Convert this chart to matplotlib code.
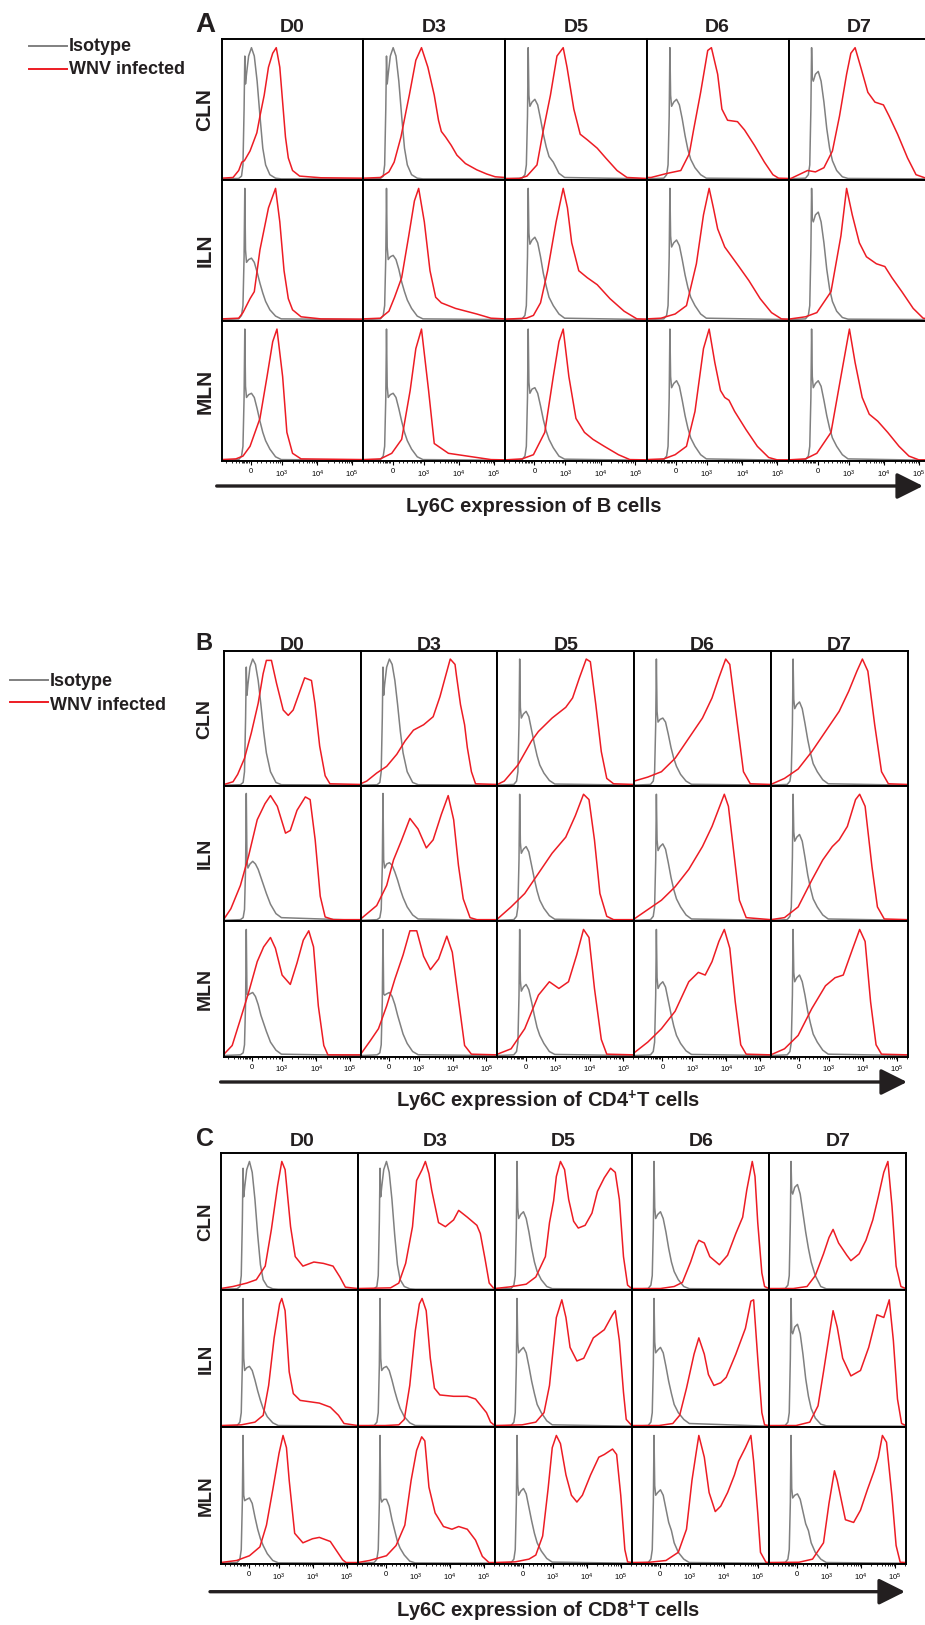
import matplotlib
matplotlib.use('Agg')
import matplotlib.pyplot as plt

plt.rcParams['font.family'] = ['Liberation Sans', 'DejaVu Sans']
plt.rcParams['mathtext.default'] = 'regular'

W, H = 925, 1625
RED = '#ED1C24'
GREY = '#808080'
INK = '#231F20'

days = ['D0', 'D3', 'D5', 'D6', 'D7']
nodes = ['CLN', 'ILN', 'MLN']
tick_pos = [0.207, 0.425, 0.675, 0.92]
tick_lab = ['0', '$10^{3}$', '$10^{4}$', '$10^{5}$']
minor_pos = [0.03, 0.07, 0.10, 0.12, 0.14, 0.15, 0.16, 0.17, 0.18, 0.19,
             0.25, 0.28, 0.31, 0.34, 0.36, 0.38, 0.40, 0.41,
             0.50, 0.544, 0.575, 0.60, 0.619, 0.636, 0.65, 0.664,
             0.75, 0.794, 0.825, 0.85, 0.869, 0.886, 0.90, 0.914, 0.995]

# isotype histograms, sampled on a common channel grid (fraction of panel width)
iso_x = [0, 0.12, 0.14, 0.15, 0.158, 0.163, 0.168, 0.175, 0.19, 0.21, 0.23, 0.25, 0.27, 0.29, 0.31, 0.34, 0.38, 0.42, 1.0]

A_iso_CLN = [
    [0, .003, .02, .1, .5, .88, .68, .75, .88, .94, .88, .7, .45, .22, .1, .03, .005, 0, 0],
    [0, .003, .02, .1, .5, .88, .68, .75, .88, .94, .88, .7, .45, .22, .1, .03, .005, 0, 0],
    [0, .005, .03, .1, .45, .94, .6, .52, .55, .57, .53, .43, .32, .23, .16, .12, .04, .01, 0],
    [0, .005, .03, .1, .45, .94, .6, .52, .55, .57, .53, .43, .31, .21, .14, .08, .03, .005, 0],
    [0, .005, .03, .1, .5, .94, .72, .7, .75, .77, .7, .55, .36, .22, .13, .06, .015, .003, 0],
]
A_iso_ILN = [
    [0, .005, .03, .1, .45, .94, .5, .41, .43, .44, .41, .34, .26, .19, .13, .07, .025, .005, 0],
    [0, .005, .03, .1, .45, .94, .52, .43, .45, .46, .43, .36, .27, .2, .14, .08, .025, .005, 0],
    [0, .005, .03, .1, .45, .94, .62, .54, .57, .59, .55, .45, .33, .24, .16, .1, .04, .01, 0],
    [0, .005, .03, .1, .45, .94, .6, .52, .55, .57, .53, .43, .32, .23, .16, .1, .04, .01, 0],
    [0, .005, .03, .1, .5, .94, .72, .7, .75, .77, .7, .55, .36, .22, .13, .06, .015, .003, 0],
]
A_iso_MLN = [
    [0, .005, .03, .1, .45, .94, .53, .45, .47, .48, .45, .37, .28, .2, .14, .08, .025, .005, 0],
    [0, .005, .03, .1, .45, .94, .53, .45, .47, .48, .45, .37, .28, .2, .14, .08, .025, .005, 0],
    [0, .005, .03, .1, .45, .94, .56, .48, .51, .52, .48, .39, .29, .21, .15, .09, .03, .008, 0],
    [0, .005, .03, .1, .45, .94, .6, .52, .55, .57, .53, .43, .32, .23, .16, .1, .04, .01, 0],
    [0, .005, .03, .1, .45, .94, .6, .52, .55, .57, .53, .43, .32, .23, .16, .1, .04, .01, 0],
]

B_iso_CLN = [
    [0, .003, .02, .1, .5, .88, .67, .75, .88, .94, .9, .78, .6, .4, .24, .1, .02, .003, 0],
    [0, .003, .02, .1, .5, .88, .67, .75, .88, .94, .9, .78, .6, .4, .24, .1, .02, .003, 0],
    [0, .005, .03, .1, .45, .94, .58, .5, .53, .55, .51, .41, .31, .22, .15, .09, .035, .008, 0],
    [0, .005, .03, .1, .45, .94, .55, .47, .49, .5, .47, .38, .28, .2, .14, .08, .03, .006, 0],
    [0, .005, .03, .1, .45, .94, .64, .57, .6, .62, .57, .46, .34, .24, .16, .1, .04, .01, 0],
]
B_iso_ILN = [
    [0, .005, .02, .08, .4, .946, .45, .39, .42, .44, .42, .38, .32, .26, .2, .12, .05, .02, 0],
    [0, .005, .02, .08, .4, .946, .45, .39, .42, .43, .41, .36, .3, .23, .17, .1, .04, .01, 0],
    [0, .005, .03, .1, .45, .94, .58, .5, .53, .55, .51, .41, .31, .22, .15, .09, .035, .008, 0],
    [0, .005, .03, .1, .45, .94, .6, .52, .55, .57, .53, .43, .32, .23, .16, .1, .04, .01, 0],
    [0, .005, .03, .1, .47, .94, .66, .59, .62, .64, .59, .47, .34, .24, .16, .1, .04, .01, 0],
]
B_iso_MLN = [
    [0, .005, .02, .08, .4, .94, .46, .45, .46, .47, .44, .38, .3, .24, .18, .1, .04, .01, 0],
    [0, .005, .02, .08, .4, .94, .46, .45, .46, .47, .44, .38, .3, .23, .16, .09, .03, .006, 0],
    [0, .005, .03, .1, .45, .94, .56, .48, .51, .53, .49, .4, .3, .21, .15, .09, .03, .008, 0],
    [0, .005, .03, .1, .45, .94, .58, .5, .53, .55, .51, .41, .31, .22, .15, .09, .035, .008, 0],
    [0, .005, .03, .1, .45, .94, .62, .55, .58, .6, .55, .45, .33, .24, .16, .1, .04, .01, 0],
]

C_iso_CLN = [
    [0, .003, .02, .1, .5, .89, .68, .75, .88, .94, .86, .66, .4, .18, .07, .02, .003, 0, 0],
    [0, .003, .02, .1, .5, .89, .68, .75, .88, .94, .86, .66, .4, .18, .07, .02, .003, 0, 0],
    [0, .005, .03, .1, .45, .94, .6, .52, .55, .57, .52, .42, .3, .2, .13, .07, .02, .004, 0],
    [0, .005, .03, .1, .45, .94, .6, .52, .55, .57, .52, .42, .3, .2, .13, .07, .02, .004, 0],
    [0, .005, .03, .1, .5, .94, .72, .7, .75, .77, .7, .56, .42, .3, .2, .1, .02, .003, 0],
]
C_iso_ILN = [
    [0, .005, .03, .1, .45, .94, .5, .41, .43, .44, .41, .34, .26, .19, .13, .07, .025, .005, 0],
    [0, .005, .03, .1, .45, .94, .5, .41, .43, .44, .41, .34, .26, .19, .13, .07, .025, .005, 0],
    [0, .005, .03, .1, .45, .94, .62, .54, .56, .58, .54, .44, .33, .24, .16, .1, .04, .01, 0],
    [0, .005, .03, .1, .45, .94, .62, .54, .56, .58, .54, .44, .33, .24, .16, .1, .05, .02, 0],
    [0, .005, .03, .1, .5, .94, .7, .68, .73, .75, .68, .53, .35, .22, .13, .06, .015, .003, 0],
]
C_iso_MLN = [
    [0, .005, .03, .1, .45, .94, .5, .46, .47, .48, .44, .34, .25, .18, .13, .07, .02, .003, 0],
    [0, .005, .03, .1, .45, .94, .48, .45, .47, .47, .42, .32, .24, .16, .11, .06, .015, .002, 0],
    [0, .005, .03, .1, .45, .94, .58, .5, .53, .55, .51, .41, .31, .22, .15, .09, .035, .008, 0],
    [0, .005, .03, .1, .45, .94, .57, .5, .52, .54, .5, .4, .3, .24, .15, .08, .03, .005, 0],
    [0, .005, .03, .1, .45, .94, .55, .48, .5, .51, .47, .38, .29, .24, .15, .08, .03, .005, 0],
]

# WNV infected histograms: (channel fraction, relative count)
A_wnv_CLN = [
    [(0, .005), (.08, .01), (.12, .06), (.142, .12), (.16, .13), (.2, .2), (.248, .33), (.27, .45), (.3, .6),
     (.33, .8), (.36, .9), (.385, .94), (.41, .8), (.43, .55), (.45, .3), (.47, .15), (.5, .06), (.55, .02),
     (.7, .008), (1, .005)],
    [(0, .005), (.12, .01), (.18, .05), (.217, .12), (.265, .3), (.3, .48), (.324, .6), (.37, .85), (.41, .94),
     (.455, .8), (.5, .6), (.53, .42), (.55, .34), (.58, .3), (.62, .24), (.66, .17), (.72, .11), (.8, .065),
     (.87, .035), (.93, .015), (1, .01)],
    [(0, .003), (.1, .003), (.154, .02), (.225, .1), (.27, .35), (.32, .6), (.366, .88), (.41, .94), (.437, .8),
     (.485, .5), (.53, .32), (.58, .28), (.65, .22), (.71, .15), (.79, .06), (.86, .01), (1, .003)],
    [(0, .01), (.03, .01), (.146, .04), (.24, .06), (.3, .18), (.33, .35), (.38, .62), (.43, .92), (.456, .94),
     (.5, .75), (.53, .5), (.57, .42), (.64, .41), (.69, .35), (.76, .24), (.83, .12), (.89, .03), (.93, .005),
     (1, .003)],
    [(0, .003), (.017, .003), (.135, .06), (.19, .05), (.25, .08), (.31, .2), (.36, .45), (.41, .75), (.44, .9),
     (.47, .94), (.51, .8), (.56, .62), (.61, .55), (.67, .53), (.71, .45), (.77, .32), (.84, .15), (.9, .03),
     (.975, .003), (1, .003)],
]
A_wnv_ILN = [
    [(0, .005), (.12, .01), (.15, .05), (.2, .15), (.23, .2), (.27, .5), (.33, .8), (.38, .94), (.41, .7),
     (.44, .35), (.47, .15), (.5, .07), (.56, .02), (.7, .005), (1, .003)],
    [(0, .005), (.12, .01), (.18, .06), (.22, .16), (.27, .3), (.32, .6), (.36, .85), (.39, .94), (.43, .7),
     (.47, .35), (.51, .16), (.55, .12), (.65, .08), (.8, .04), (.9, .01), (1, .005)],
    [(0, .003), (.15, .01), (.2, .03), (.25, .12), (.3, .35), (.36, .7), (.41, .94), (.44, .8), (.47, .55),
     (.52, .35), (.58, .3), (.65, .25), (.74, .15), (.84, .06), (.93, .005), (1, .003)],
    [(0, .005), (.1, .01), (.2, .04), (.28, .1), (.35, .4), (.4, .75), (.44, .94), (.47, .8), (.5, .65),
     (.55, .52), (.6, .45), (.65, .38), (.72, .28), (.8, .15), (.88, .05), (.95, .005), (1, .003)],
    [(0, .003), (.12, .02), (.2, .05), (.3, .2), (.37, .6), (.41, .94), (.45, .75), (.5, .55), (.55, .45),
     (.62, .4), (.68, .38), (.73, .3), (.8, .2), (.88, .08), (.95, .01), (1, .003)],
]
A_wnv_MLN = [
    [(0, .005), (.1, .01), (.15, .03), (.2, .1), (.27, .3), (.32, .6), (.36, .85), (.39, .94), (.43, .6),
     (.46, .2), (.5, .05), (.56, .01), (1, .005)],
    [(0, .005), (.12, .01), (.2, .05), (.27, .15), (.33, .5), (.37, .8), (.41, .94), (.46, .5), (.5, .12),
     (.6, .05), (.8, .02), (.9, .005), (1, .003)],
    [(0, .003), (.12, .01), (.2, .04), (.28, .2), (.34, .6), (.38, .85), (.41, .94), (.45, .6), (.5, .3),
     (.56, .2), (.62, .15), (.7, .1), (.8, .04), (.88, .005), (1, .003)],
    [(0, .005), (.12, .01), (.2, .04), (.28, .1), (.34, .35), (.4, .8), (.44, .94), (.48, .7), (.52, .5),
     (.55, .45), (.58, .43), (.62, .35), (.7, .22), (.78, .1), (.86, .02), (.92, .003), (1, .003)],
    [(0, .003), (.12, .01), (.2, .05), (.3, .2), (.37, .6), (.43, .94), (.47, .7), (.52, .45), (.57, .33),
     (.63, .28), (.7, .2), (.78, .1), (.85, .03), (.92, .003), (1, .003)],
]

B_wnv_CLN = [
    [(0, .005), (.066, .025), (.1, .08), (.15, .2), (.2, .39), (.25, .61), (.286, .83), (.31, .93), (.347, .93),
     (.384, .76), (.433, .56), (.47, .52), (.506, .56), (.555, .7), (.59, .8), (.64, .78), (.665, .61),
     (.7, .29), (.74, .07), (.775, .01), (1, .005)],
    [(0, .01), (.044, .03), (.117, .09), (.19, .14), (.264, .23), (.325, .33), (.386, .41), (.46, .45),
     (.53, .51), (.58, .66), (.62, .81), (.655, .94), (.69, .9), (.7, .82), (.73, .6), (.76, .45), (.78, .28),
     (.81, .1), (.84, .01), (1, .005)],
    [(0, .005), (.05, .03), (.15, .15), (.25, .33), (.3, .4), (.4, .5), (.5, .58), (.55, .65), (.6, .8),
     (.65, .94), (.68, .92), (.72, .6), (.76, .25), (.8, .05), (.85, .01), (1, .005)],
    [(0, .03), (.1, .06), (.2, .1), (.3, .2), (.4, .35), (.5, .5), (.57, .65), (.62, .8), (.67, .94), (.7, .9),
     (.75, .5), (.8, .1), (.85, .01), (1, .005)],
    [(0, .005), (.1, .05), (.2, .12), (.3, .25), (.4, .4), (.5, .55), (.57, .7), (.63, .85), (.67, .94),
     (.71, .85), (.76, .45), (.81, .1), (.86, .01), (1, .005)],
]
B_wnv_ILN = [
    [(0, .01), (.05, .086), (.12, .26), (.18, .48), (.243, .75), (.3, .87), (.34, .93), (.39, .85), (.45, .65),
     (.485, .67), (.534, .82), (.595, .92), (.63, .9), (.667, .6), (.704, .18), (.74, .025), (.8, .005),
     (1, .005)],
    [(0, .01), (.117, .11), (.19, .26), (.24, .45), (.3, .6), (.36, .76), (.42, .68), (.48, .54), (.53, .6),
     (.59, .79), (.64, .93), (.68, .75), (.715, .41), (.75, .16), (.8, .02), (.85, .005), (1, .005)],
    [(0, .01), (.1, .1), (.2, .2), (.3, .35), (.4, .5), (.5, .62), (.57, .78), (.63, .94), (.67, .9), (.71, .6),
     (.75, .2), (.8, .03), (.85, .005), (1, .005)],
    [(0, .01), (.1, .08), (.2, .15), (.3, .25), (.4, .38), (.5, .55), (.57, .7), (.66, .94), (.69, .85),
     (.73, .5), (.77, .15), (.82, .02), (1, .005)],
    [(0, .005), (.1, .02), (.2, .1), (.3, .3), (.38, .45), (.45, .55), (.5, .6), (.56, .7), (.62, .9),
     (.65, .94), (.69, .85), (.74, .4), (.78, .1), (.83, .01), (1, .005)],
]
B_wnv_MLN = [
    [(0, .01), (.06, .075), (.12, .27), (.18, .47), (.243, .7), (.29, .81), (.34, .88), (.376, .8), (.425, .6),
     (.485, .53), (.534, .69), (.58, .86), (.62, .93), (.655, .81), (.69, .37), (.73, .075), (.76, .005),
     (1, .005)],
    [(0, .01), (.07, .11), (.13, .2), (.19, .37), (.25, .57), (.31, .75), (.36, .93), (.41, .93), (.46, .74),
     (.51, .64), (.57, .72), (.63, .89), (.67, .77), (.715, .42), (.76, .075), (.81, .01), (1, .005)],
    [(0, .01), (.1, .05), (.2, .2), (.3, .45), (.38, .55), (.45, .5), (.52, .55), (.58, .75), (.63, .94),
     (.67, .88), (.71, .5), (.76, .12), (.8, .01), (1, .005)],
    [(0, .02), (.1, .1), (.2, .2), (.3, .33), (.4, .55), (.47, .62), (.52, .6), (.57, .7), (.62, .85),
     (.66, .94), (.7, .8), (.74, .4), (.78, .08), (.82, .01), (1, .005)],
    [(0, .005), (.1, .05), (.2, .15), (.3, .35), (.4, .52), (.47, .58), (.53, .6), (.6, .8), (.65, .94),
     (.69, .85), (.73, .4), (.77, .08), (.81, .01), (1, .005)],
]

C_wnv_CLN = [
    [(0, .005), (.09, .02), (.19, .045), (.26, .07), (.325, .17), (.37, .44), (.415, .76), (.446, .94),
     (.47, .88), (.51, .46), (.544, .24), (.6, .17), (.68, .2), (.75, .19), (.82, .17), (.87, .09), (.91, .015),
     (1, .005)],
    [(0, .005), (.24, .01), (.3, .045), (.35, .19), (.4, .46), (.43, .8), (.47, .88), (.494, .94), (.52, .85),
     (.54, .73), (.59, .49), (.64, .46), (.7, .51), (.737, .58), (.8, .53), (.87, .47), (.895, .41), (.93, .22),
     (.96, .045), (.99, .01), (1, .005)],
    [(0, .005), (.11, .017), (.23, .037), (.3, .09), (.37, .24), (.4, .49), (.43, .65), (.45, .83), (.48, .94),
     (.51, .88), (.54, .66), (.576, .5), (.61, .45), (.66, .47), (.71, .56), (.75, .72), (.8, .82), (.846, .89),
     (.88, .86), (.91, .66), (.94, .24), (.97, .03), (1, .005)],
    [(0, .005), (.21, .005), (.31, .02), (.37, .05), (.43, .2), (.47, .32), (.49, .36), (.53, .34), (.57, .24),
     (.64, .18), (.7, .25), (.76, .41), (.81, .53), (.84, .73), (.88, .94), (.9, .83), (.92, .49), (.95, .12),
     (.97, .02), (1, .005)],
    [(0, .005), (.18, .005), (.28, .02), (.34, .1), (.4, .26), (.44, .38), (.47, .44), (.51, .34), (.57, .25),
     (.6, .21), (.66, .26), (.71, .36), (.76, .51), (.8, .68), (.84, .86), (.87, .94), (.9, .61), (.93, .17),
     (.965, .02), (1, .005)],
]
C_wnv_ILN = [
    [(0, .005), (.15, .01), (.25, .03), (.31, .08), (.35, .3), (.39, .65), (.43, .9), (.446, .94), (.47, .85),
     (.5, .4), (.53, .24), (.58, .19), (.65, .18), (.72, .17), (.8, .14), (.86, .08), (.9, .02), (1, .005)],
    [(0, .005), (.2, .005), (.3, .01), (.34, .05), (.38, .3), (.42, .7), (.45, .9), (.47, .94), (.5, .85),
     (.53, .5), (.56, .28), (.6, .23), (.7, .22), (.8, .22), (.86, .2), (.9, .15), (.94, .1), (.97, .03),
     (1, .005)],
    [(0, .005), (.2, .01), (.3, .03), (.36, .1), (.4, .3), (.43, .6), (.45, .8), (.49, .93), (.52, .8),
     (.55, .58), (.6, .48), (.65, .5), (.72, .65), (.8, .71), (.86, .82), (.88, .85), (.91, .63), (.94, .25),
     (.96, .05), (1, .005)],
    [(0, .005), (.2, .005), (.3, .02), (.35, .08), (.4, .28), (.455, .53), (.49, .65), (.53, .53), (.56, .38),
     (.6, .3), (.65, .32), (.69, .36), (.76, .53), (.83, .72), (.87, .92), (.89, .93), (.92, .5), (.95, .1),
     (.97, .01), (1, .005)],
    [(0, .005), (.2, .005), (.3, .03), (.36, .15), (.4, .4), (.42, .53), (.47, .85), (.5, .73), (.54, .5),
     (.6, .37), (.67, .41), (.73, .58), (.79, .82), (.84, .8), (.88, .93), (.91, .63), (.94, .2), (.97, .02),
     (1, .005)],
]
C_wnv_MLN = [
    [(0, .005), (.116, .02), (.21, .055), (.286, .12), (.334, .28), (.38, .54), (.426, .81), (.455, .94),
     (.48, .85), (.5, .61), (.54, .22), (.6, .15), (.67, .18), (.72, .19), (.8, .16), (.84, .1), (.89, .025),
     (.915, .005), (1, .005)],
    [(0, .005), (.086, .02), (.21, .055), (.28, .13), (.344, .28), (.39, .61), (.43, .83), (.467, .93),
     (.49, .9), (.52, .56), (.565, .37), (.626, .27), (.688, .25), (.737, .27), (.8, .25), (.86, .17),
     (.91, .05), (.958, .005), (1, .005)],
    [(0, .005), (.15, .01), (.25, .03), (.3, .06), (.35, .2), (.39, .55), (.42, .85), (.45, .94), (.48, .88),
     (.52, .65), (.56, .5), (.6, .45), (.64, .5), (.7, .65), (.76, .78), (.8, .8), (.86, .84), (.89, .8),
     (.92, .5), (.95, .1), (.97, .01), (1, .005)],
    [(0, .005), (.13, .007), (.25, .02), (.34, .08), (.4, .25), (.44, .61), (.47, .81), (.49, .94), (.53, .78),
     (.565, .52), (.61, .38), (.65, .42), (.7, .52), (.75, .65), (.78, .75), (.83, .85), (.87, .94), (.89, .75),
     (.92, .37), (.94, .08), (.98, .007), (1, .005)],
    [(0, .005), (.22, .007), (.32, .03), (.4, .15), (.44, .44), (.48, .68), (.5, .61), (.56, .32), (.62, .3),
     (.67, .39), (.72, .54), (.77, .68), (.8, .78), (.83, .94), (.86, .89), (.9, .49), (.93, .13), (.96, .007),
     (1, .005)],
]

fig = plt.figure(figsize=(W / 100, H / 100), dpi=100)


def draw_block(x0, y0, cw, rh, iso_rows, wnv_rows):
    for r in range(3):
        for c in range(5):
            ax = fig.add_axes([(x0 + c * cw) / W, 1 - (y0 + (r + 1) * rh) / H, cw / W, rh / H])
            ax.plot(iso_x, iso_rows[r][c], color=GREY, lw=1.1)
            xs, ys = zip(*wnv_rows[r][c])
            ax.plot(xs, ys, color=RED, lw=1.1)
            ax.set_xlim(0, 1)
            ax.set_ylim(-0.008, 1)
            ax.set_yticks([])
            for s in ax.spines.values():
                s.set_linewidth(1.4)
                s.set_color('black')
            if r == 2:
                ax.set_xticks(tick_pos, tick_lab)
                ax.set_xticks(minor_pos, minor=True)
                ax.tick_params(axis='x', which='major', length=3, width=0.8, labelsize=5.5, pad=2)
                ax.tick_params(axis='x', which='minor', length=1.6, width=0.6)
            else:
                ax.set_xticks([])


# panel geometry in pixels: left, top, column width, row height
draw_block(221.7, 39.3, 141.7, 140.7, [A_iso_CLN, A_iso_ILN, A_iso_MLN], [A_wnv_CLN, A_wnv_ILN, A_wnv_MLN])
draw_block(224.0, 651.0, 136.7, 135.2, [B_iso_CLN, B_iso_ILN, B_iso_MLN], [B_wnv_CLN, B_wnv_ILN, B_wnv_MLN])
draw_block(220.7, 1153.3, 137.0, 137.0, [C_iso_CLN, C_iso_ILN, C_iso_MLN], [C_wnv_CLN, C_wnv_ILN, C_wnv_MLN])

ov = fig.add_axes([0, 0, 1, 1])
ov.set_xlim(0, W)
ov.set_ylim(H, 0)
ov.axis('off')
ov.patch.set_alpha(0)

bold = dict(fontweight='bold', color=INK)

# panel letters
ov.text(195, 32, 'A', fontsize=20, va='baseline', **bold)
ov.text(195, 650, 'B', fontsize=17, va='baseline', **bold)
ov.text(196, 1146, 'C', fontsize=18, va='baseline', **bold)

# column titles
for i, d in enumerate(days):
    ov.text(221.7 + 141.7 * (i + 0.5), 32, d, fontsize=14, ha='center', va='baseline', **bold)
    ov.text(224.0 + 136.7 * (i + 0.5), 650, d, fontsize=14, ha='center', va='baseline', **bold)
for xc, d in zip([302, 435, 563, 701, 838], days):
    ov.text(xc, 1146, d, fontsize=14, ha='center', va='baseline', **bold)

# row labels
for i, n in enumerate(nodes):
    ov.text(205, 39.3 + 140.7 * (i + 0.5), n, fontsize=15, rotation=90, ha='center', va='center', **bold)
    ov.text(205, 651.0 + 135.2 * (i + 0.5), n, fontsize=14, rotation=90, ha='center', va='center', **bold)
    ov.text(206, 1153.3 + 137.0 * (i + 0.5), n, fontsize=13.5, rotation=90, ha='center', va='center', **bold)

# legends
for (lx0, lx1, y1, y2, tb1, tb2) in [(29, 67, 45.7, 69.3, 51, 74), (10, 48, 680, 701.7, 685.7, 710)]:
    ov.plot([lx0, lx1], [y1, y1], color=GREY, lw=1.4)
    ov.plot([lx0, lx1], [y2, y2], color=RED, lw=1.4)
    ov.text(lx1 + 2, tb1, 'Isotype', fontsize=13, va='baseline', **bold)
    ov.text(lx1 + 2, tb2, 'WNV infected', fontsize=13, va='baseline', **bold)

# expression arrows and axis labels
arrow = dict(arrowstyle='-|>,head_length=0.8,head_width=0.4', lw=2.4, color=INK, mutation_scale=20,
             shrinkA=0, shrinkB=0)
for (xa, xb, ya, xl, yl, lab) in [
    (216.7, 923, 486, 534, 512, 'Ly6C expression of B cells'),
    (220.6, 907, 1082, 548, 1107.3, 'Ly6C expression of CD4$^{+}$T cells'),
    (210, 905, 1591.7, 548, 1617.3, 'Ly6C expression of CD8$^{+}$T cells'),
]:
    ov.annotate('', xy=(xb, ya), xytext=(xa, ya), arrowprops=arrow)
    ov.text(xl, yl, lab, fontsize=14.5, ha='center', va='baseline', **bold)

fig.savefig('out.png', dpi=100)
